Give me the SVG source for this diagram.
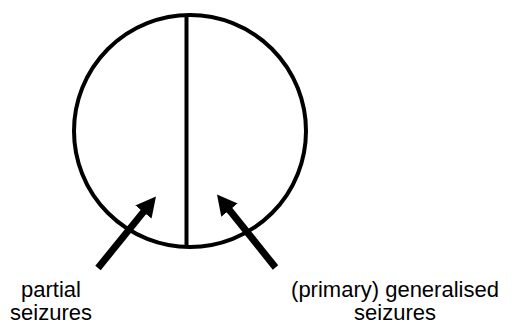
<svg xmlns="http://www.w3.org/2000/svg" width="512" height="325" viewBox="0 0 512 325">
<style>
.shape{fill:none;stroke:#000;stroke-width:4}
.arrow{stroke:#000;stroke-width:7;fill:none;marker-end:url(#head)}
.lbl{font-family:"Liberation Sans",Arial,sans-serif;font-size:22px;fill:#000;text-anchor:middle}
</style>
<defs>
<marker id="head" markerUnits="userSpaceOnUse" viewBox="-4 -11 21 22" markerWidth="21" markerHeight="22" refX="0" refY="0" orient="auto">
<path d="M-4,-10.5 L16,0 L-4,10.5 z" fill="#000"/>
</marker>
</defs>
<rect width="512" height="325" fill="#fff"/>
<g id="brain">
<circle class="shape" cx="190" cy="131" r="116"/>
<line class="shape" x1="186.5" y1="15" x2="186.5" y2="247"/>
</g>
<g id="connectors">
<line class="arrow" x1="98" y1="268" x2="145.9" y2="208.9"/>
<line class="arrow" x1="275.5" y1="267.5" x2="227" y2="207"/>
</g>
<g id="partial">
<text class="lbl" x="51" y="297">partial</text>
<text class="lbl" x="51" y="320">seizures</text>
</g>
<g id="generalised">
<text class="lbl" x="395" y="297">(primary) generalised</text>
<text class="lbl" x="395" y="320">seizures</text>
</g>
</svg>
